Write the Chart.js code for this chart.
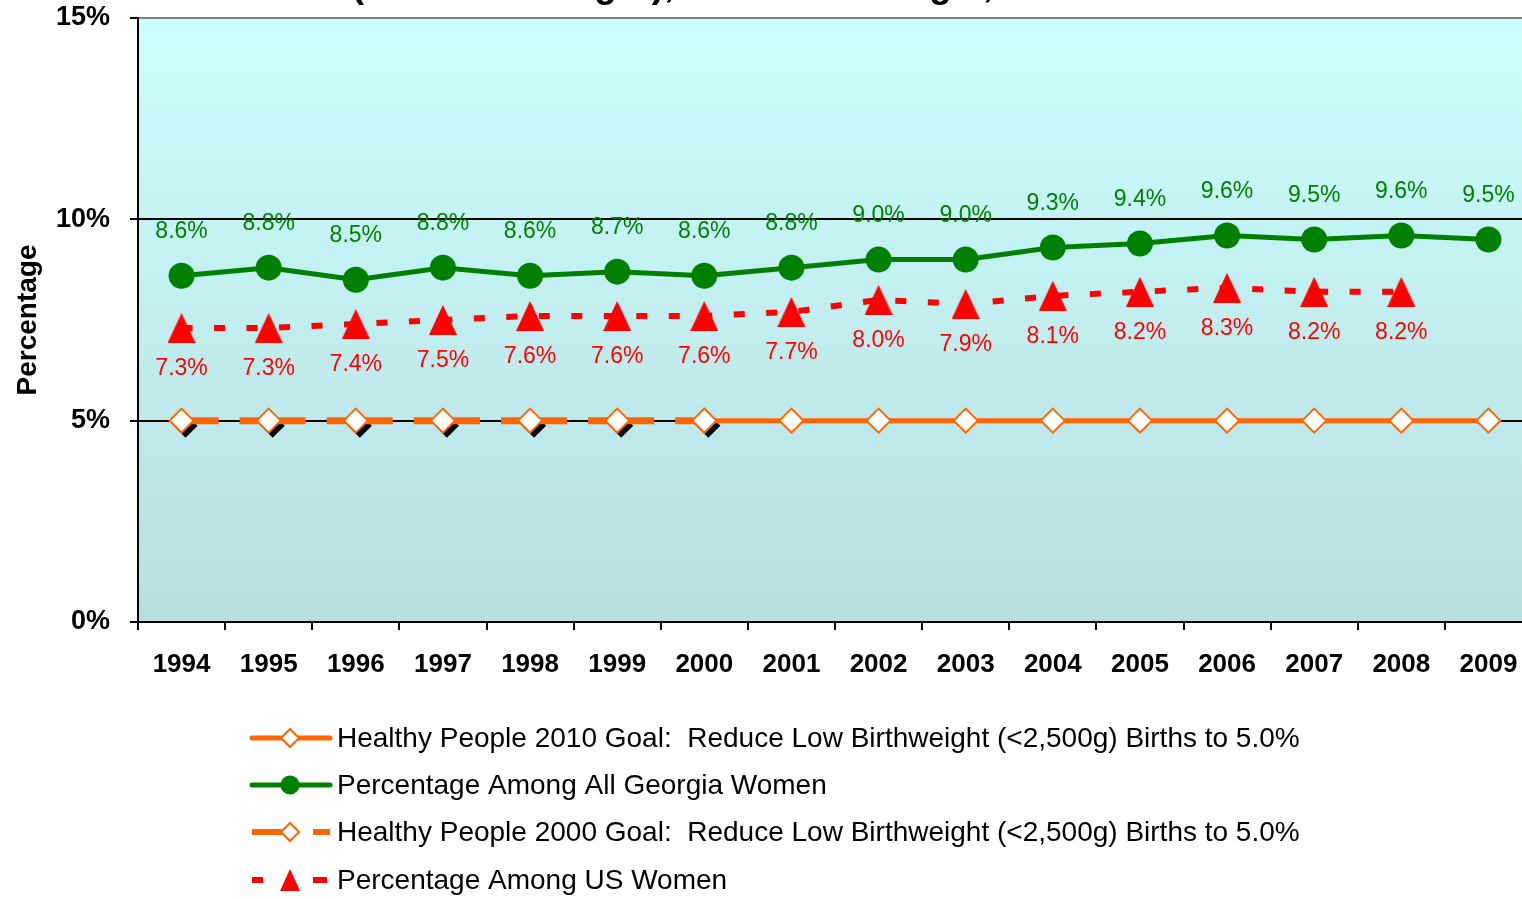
<!DOCTYPE html>
<html>
<head>
<meta charset="utf-8">
<script src="https://cdn.jsdelivr.net/npm/chart.js@4.4.0/dist/chart.umd.min.js"></script>
<style>
  html, body { margin: 0; padding: 0; background: #fff; overflow: hidden; }
  #contenedor { position: absolute; left: 0; top: -30px; width: 1578px; height: 929px; }
</style>
</head>
<body>
<div id="contenedor"><canvas id="graficoBajoPeso"></canvas></div>
<script>
//---------------
// Datos
//---------------
const anios = ['1994', '1995', '1996', '1997', '1998', '1999', '2000', '2001',
               '2002', '2003', '2004', '2005', '2006', '2007', '2008', '2009'];
const georgia = [8.6, 8.8, 8.5, 8.8, 8.6, 8.7, 8.6, 8.8, 9.0, 9.0, 9.3, 9.4, 9.6, 9.5, 9.6, 9.5];
const eeuu = [7.3, 7.3, 7.4, 7.5, 7.6, 7.6, 7.6, 7.7, 8.0, 7.9, 8.1, 8.2, 8.3, 8.2, 8.2, null];
const meta2000 = [5.0, 5.0, 5.0, 5.0, 5.0, 5.0, 5.0, null, null, null, null, null, null, null, null, null];
const meta2010 = [null, null, null, null, null, null, 5.0, 5.0, 5.0, 5.0, 5.0, 5.0, 5.0, 5.0, 5.0, 5.0];
const ticksY = [0, 5, 10, 15];

const etiquetas = [
  'Healthy People 2010 Goal:  Reduce Low Birthweight (<2,500g) Births to 5.0%',
  'Percentage Among All Georgia Women',
  'Healthy People 2000 Goal:  Reduce Low Birthweight (<2,500g) Births to 5.0%',
  'Percentage Among US Women'
];

const VERDE = '#008000';
const ROJO = '#ff0000';
const NARANJA = '#ff6600';
const FUENTE = '"Liberation Sans", Arial, sans-serif';

// triangulo rojo (un poco mas alto que equilatero)
function crearTriangulo(w, h) {
  const c = document.createElement('canvas');
  c.width = w; c.height = h;
  const g = c.getContext('2d');
  g.fillStyle = ROJO;
  g.beginPath();
  g.moveTo(w / 2, 0);
  g.lineTo(w, h);
  g.lineTo(0, h);
  g.closePath();
  g.fill();
  return c;
}
const triangulo = crearTriangulo(28, 30);

//---------------
// Plugins
//---------------
const fondoPlugin = {
  id: 'fondo',
  beforeDraw(chart) {
    const { ctx, chartArea: a } = chart;
    const grad = ctx.createLinearGradient(0, a.top, 0, a.bottom);
    grad.addColorStop(0, '#cbfefe');
    grad.addColorStop(1, '#b9dee1');
    ctx.save();
    ctx.fillStyle = grad;
    ctx.fillRect(a.left, a.top, a.right - a.left, a.bottom - a.top);
    ctx.restore();
  }
};

// sombra negra de los rombos de la meta 2000
const sombraPlugin = {
  id: 'sombra',
  beforeDatasetDraw(chart, args) {
    if (args.index !== 3) return;
    const ctx = chart.ctx;
    ctx.save();
    ctx.fillStyle = '#000';
    args.meta.data.forEach((p, i) => {
      if (meta2000[i] === null) return;
      const x = p.x + 4, y = p.y + 5, r = 12;
      ctx.beginPath();
      ctx.moveTo(x - r, y); ctx.lineTo(x, y - r); ctx.lineTo(x + r, y); ctx.lineTo(x, y + r);
      ctx.closePath();
      ctx.fill();
    });
    ctx.restore();
  }
};

const valoresPlugin = {
  id: 'valores',
  afterDatasetsDraw(chart) {
    const ctx = chart.ctx;
    ctx.save();
    ctx.font = '23px ' + FUENTE;
    ctx.textAlign = 'center';
    ctx.textBaseline = 'middle';
    chart.getDatasetMeta(0).data.forEach((p, i) => {
      ctx.fillStyle = VERDE;
      ctx.fillText(georgia[i].toFixed(1) + '%', p.x, p.y - 44);
    });
    chart.getDatasetMeta(1).data.forEach((p, i) => {
      if (eeuu[i] === null) return;
      ctx.fillStyle = ROJO;
      ctx.fillText(eeuu[i].toFixed(1) + '%', p.x, p.y + 41);
    });
    ctx.restore();
  }
};

function rombo(ctx, x, y, r) {
  ctx.beginPath();
  ctx.moveTo(x - r, y); ctx.lineTo(x, y - r); ctx.lineTo(x + r, y); ctx.lineTo(x, y + r);
  ctx.closePath();
  ctx.fillStyle = '#fff';
  ctx.fill();
  ctx.lineWidth = 2;
  ctx.strokeStyle = NARANJA;
  ctx.stroke();
}

const leyendaPlugin = {
  id: 'leyenda',
  afterDraw(chart) {
    const ctx = chart.ctx;
    const base = chart.chartArea.bottom;
    const x0 = 252, x1 = 330, xm = 290, xt = 337;
    const filas = [base + 116, base + 163, base + 210, base + 258];
    ctx.save();

    // 2010
    let y = filas[0];
    ctx.setLineDash([]);
    ctx.strokeStyle = NARANJA; ctx.lineWidth = 5; ctx.lineCap = 'round';
    ctx.beginPath(); ctx.moveTo(x0, y); ctx.lineTo(x1, y); ctx.stroke();
    rombo(ctx, xm, y, 9);

    // Georgia
    y = filas[1];
    ctx.strokeStyle = VERDE; ctx.lineWidth = 5;
    ctx.beginPath(); ctx.moveTo(x0, y); ctx.lineTo(x1, y); ctx.stroke();
    ctx.fillStyle = VERDE;
    ctx.beginPath(); ctx.arc(xm, y, 9.5, 0, Math.PI * 2); ctx.fill();

    // 2000
    y = filas[2];
    ctx.lineCap = 'butt';
    ctx.setLineDash([30, 31, 17]);
    ctx.strokeStyle = NARANJA; ctx.lineWidth = 6;
    ctx.beginPath(); ctx.moveTo(x0, y); ctx.lineTo(x1, y); ctx.stroke();
    ctx.setLineDash([]);
    rombo(ctx, xm, y, 9);

    // EEUU
    y = filas[3];
    ctx.setLineDash([11, 50, 14]);
    ctx.strokeStyle = ROJO; ctx.lineWidth = 6;
    ctx.beginPath(); ctx.moveTo(x0, y); ctx.lineTo(x1, y); ctx.stroke();
    ctx.setLineDash([]);
    ctx.drawImage(crearTriangulo(20, 22), xm - 10, y - 11);

    ctx.fillStyle = '#000';
    ctx.font = '28px ' + FUENTE;
    ctx.textAlign = 'left';
    ctx.textBaseline = 'middle';
    etiquetas.forEach((t, i) => ctx.fillText(t, xt, filas[i] + 1));
    ctx.restore();
  }
};

//---------------
// Grafico
//---------------
const grafico = new Chart(document.getElementById('graficoBajoPeso'), {
  type: 'line',
  data: {
    labels: anios,
    datasets: [
      { label: etiquetas[1], data: georgia, borderColor: VERDE, backgroundColor: VERDE,
        borderWidth: 5, pointRadius: 13, pointBorderWidth: 0, pointStyle: 'circle', tension: 0 },
      { label: etiquetas[3], data: eeuu, borderColor: ROJO, backgroundColor: ROJO,
        borderWidth: 6, borderDash: [11, 21.5], pointStyle: triangulo, tension: 0 },
      { label: etiquetas[0], data: meta2010, borderColor: NARANJA, backgroundColor: '#fff',
        borderWidth: 5, pointStyle: 'rectRot', pointRadius: 12, pointBorderWidth: 2,
        pointBorderColor: NARANJA, pointBackgroundColor: '#fff', tension: 0 },
      { label: etiquetas[2], data: meta2000, borderColor: NARANJA, backgroundColor: '#fff',
        borderWidth: 7, borderDash: [37, 21, 27, 100], pointStyle: 'rectRot', pointRadius: 12,
        pointBorderWidth: 2, pointBorderColor: NARANJA, pointBackgroundColor: '#fff', tension: 0,
        segment: { borderDashOffset: c => (c.p0DataIndex % 2) * 0.001 } }
    ]
  },
  options: {
    responsive: true,
    maintainAspectRatio: false,
    animation: false,
    spanGaps: false,
    layout: { padding: { left: 0, right: 46, top: 0, bottom: 217 } },
    plugins: {
      legend: { display: false },
      tooltip: { enabled: false },
      title: {
        display: true,
        text: '(Low Birthweight), U.S. and Georgia, 1994-2009',
        color: '#000',
        font: { family: FUENTE, size: 37, weight: 'bold', lineHeight: 0.9 },
        padding: { top: 0, bottom: 14.7 }
      }
    },
    scales: {
      x: {
        offset: true,
        afterFit: s => { s.height = 60; },
        grid: { display: true, offset: true, drawOnChartArea: false, color: '#000', tickColor: '#000', tickLength: 8, lineWidth: 2 },
        border: { color: '#000', width: 2 },
        ticks: { color: '#000', padding: 19, maxRotation: 0, font: { family: FUENTE, size: 26, weight: 'bold' } }
      },
      y: {
        min: 0,
        max: 15,
        afterFit: s => { s.width = 138; },
        afterBuildTicks: s => { s.ticks = ticksY.map(v => ({ value: v })); },
        grid: {
          color: c => c.tick.value === 0 ? 'rgba(0,0,0,0)' : (c.tick.value === 15 ? '#808080' : '#000'),
          tickColor: '#000', tickLength: 8, lineWidth: 2
        },
        border: { color: '#000', width: 2 },
        ticks: { color: '#000', padding: 20, callback: v => v + '%', font: { family: FUENTE, size: 27, weight: 'bold' } },
        title: {
          display: true, text: 'Percentage', color: '#000',
          font: { family: FUENTE, size: 28, weight: 'bold' },
          padding: { top: 11, bottom: 0 }
        }
      }
    }
  },
  plugins: [fondoPlugin, sombraPlugin, valoresPlugin, leyendaPlugin]
});
</script>
</body>
</html>
